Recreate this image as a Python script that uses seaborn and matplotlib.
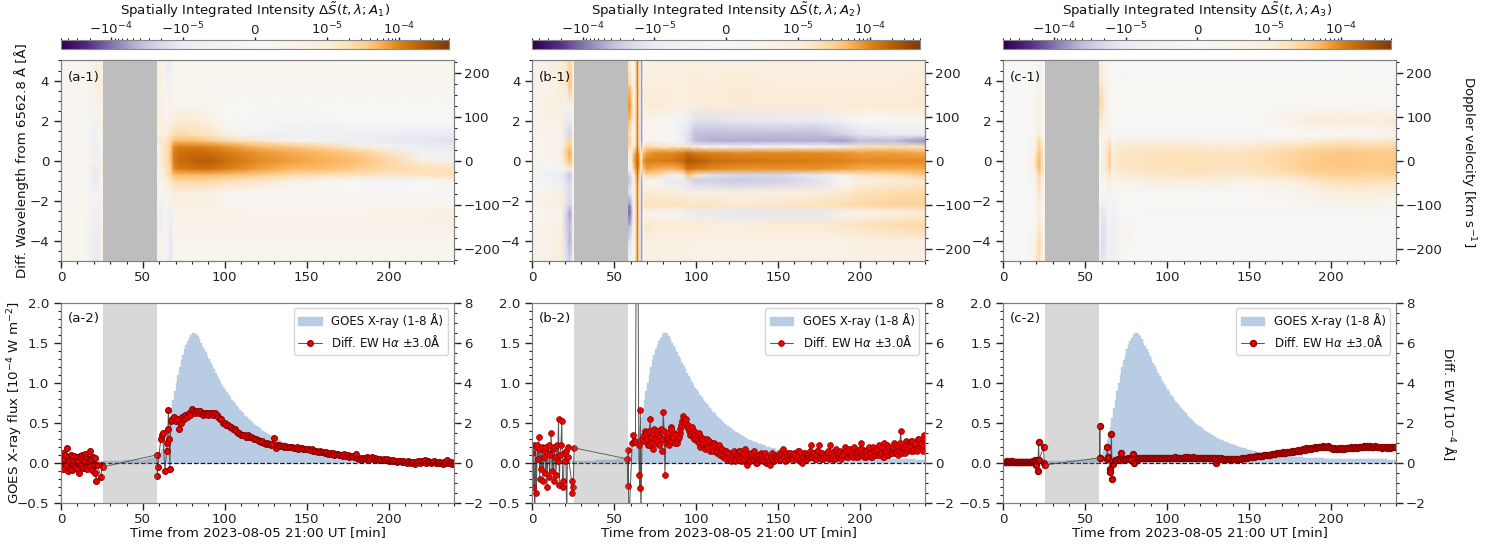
"""
plot.py - H-alpha difference spectra and equivalent width against GOES flux.
"""

import matplotlib.pyplot as plt
import numpy as np
import seaborn as sns
from matplotlib.cm import ScalarMappable
from matplotlib.colors import LinearSegmentedColormap, SymLogNorm
from matplotlib.patches import Patch
from matplotlib.ticker import MultipleLocator

# ── Heatmap data (units of 1e-5), one row per wavelength, low to high ──
wavelength = [-5, -4, -3.2, -2.6, -2.2, -1.6, -1, -0.7, -0.4, 0, 0.4, 0.7, 1, 1.3, 2, 2.8, 3.8, 5]

time_a = [0, 15, 21, 23, 25, 59, 61, 63, 65, 67, 69, 72, 80, 90, 100, 120, 140, 160, 180, 200, 220, 240]
intensity_a = [
    [.3, .3, -1, -1, .4, .7, .7, .4, -.4, -1.2, .3, .3, .3, .3, .3, .3, .3, .3, .3, .3, .3, .3],
    [.3, .3, -1, -1, .7, .7, .4, -.4, -.4, -1.2, .3, .3, .3, .3, .3, .3, .3, .3, .3, .3, .3, .3],
    [.3, .3, -.7, -.7, .4, .7, -.7, .4, -.4, -1, .3, .6, .6, .6, .6, .6, .6, .6, .6, .6, .6, .6],
    [.3, .3, -.7, -.7, .4, .7, -1, .4, -.4, -.7, .3, .6, .6, .6, .6, .3, .3, .3, .3, .6, .6, 1],
    [.3, .3, -.4, -.4, .4, .4, -.7, .4, .4, -.4, .7, .7, .7, .7, .3, .3, .3, .3, .3, .3, .3, .3],
    [.2, .3, -.4, -.4, .4, .4, 0, .4, .4, .4, 1, 1, .7, .7, .3, 0, 0, 0, 0, 0, 0, 0],
    [.2, .2, -1, -.7, .4, .4, .4, .7, 1, 1.5, 2, 2.5, 2.5, 2.5, 2, 1.5, .7, .4, 0, -.4, 0, .4],
    [.2, .2, -1, -.7, .4, .4, .7, 1, 1.7, 2.5, 4.5, 5, 5, 5, 4.5, 3.5, 2.5, 2, 1.8, 1.5, 1.7, 2],
    [.2, .2, -1, -.7, .7, .4, .7, 1.2, 2, 3, 9, 11, 13, 14, 11, 7, 5, 4.5, 3.5, 2.5, 2, 1.8],
    [.2, .2, .7, .7, .7, -.7, 1, 1.7, 2, 4, 11, 15, 18, 20, 15, 9, 7, 5.5, 4.5, 2.5, 1, -.4],
    [.2, .2, -.7, -.4, .4, -.4, 1, 1.7, 2, 4, 11, 14, 16, 15, 12, 8, 6, 5, 3.5, 1.7, -.4, -.7],
    [.2, .2, -.7, -.4, .4, 0, 1, 1.5, 2, 3.5, 9, 11, 11, 10, 8, 5, 4, 2.5, 1.2, -.4, -.7, -1],
    [.2, .2, -.7, .4, .4, 1.5, 1.2, 1.2, 1.7, 2.5, 4.5, 4.5, 4.5, 3.5, 2.5, 1.5, .4, -.4, -.7, -1, -1.2, -1.5],
    [.2, .2, -.7, .4, .4, .4, .7, 1, 1.2, 1.5, 2, 2.5, 2, 1.7, .7, -.4, -.7, -.7, -.7, -.7, -1, -1],
    [.2, .2, -.4, .4, .7, 1, 1, .4, .4, .7, 1, 1.2, 1.2, .7, .15, -.15, -.15, -.15, 0, 0, 0, 0],
    [.3, .15, .4, .7, .7, 1, .7, .4, .4, .4, .3, .3, .3, .3, .15, .15, .15, .15, .15, .15, .15, .15],
    [.3, .3, .7, 1, 1, 1, .7, .4, -.4, -.4, .3, .3, .3, .3, .3, .3, .3, .3, .3, .3, .3, .3],
    [.3, .3, .7, 1, .7, .7, .7, .4, -1, -.7, .3, .3, .3, .3, .3, .3, .3, .3, .3, .3, .3, .3],
]

time_b = [0, 10, 18, 21, 23, 25, 59, 60, 61, 62, 63.5, 64.3, 65, 66.2, 66.9, 67.6, 70, 75, 85, 92, 95, 100, 110, 125, 150, 175, 190, 200, 220, 240]
intensity_b = [
    [.4, .6, 1, -1.5, -2.5, .4, .6, -.8, -.2, 0, 3, 16, 3, -1, -8, .4, .7, .7, .7, .6, .6, .6, .6, .5, .5, .6, .5, .6, .7, .6],
    [.6, .4, 1, -2, -5, .5, -1.5, -1.2, -.4, 0, 3, 16, 3, -1, -8, .6, .7, .7, .7, .7, .7, .6, .6, .6, .6, .6, .6, .8, .8, .8],
    [.4, .6, .7, -2.5, -4, .5, -5, -4, -1.5, 0, 3, 16, 3, -1, -8, .6, 1.5, 1.2, 1.2, 1.2, 1.2, 1.2, 1, 1, 1.2, 1.2, 1.5, 1.7, 2.2, 2.6],
    [0, .3, .4, -2.5, -6, .3, -11, -10, -3, 0, 3, 16, 3, -.6, -8, .2, .3, .3, -.3, -.3, -.6, -.9, -1, -1.2, -1.2, -1.2, -.3, .3, .6, .9],
    [.4, .7, 1, -1.5, -2.5, .3, -8, -7, -2, 0, 3, 16, 3, -.6, -8, 1.2, 2, 1.8, 1.7, 1.7, 1.7, 1.7, 1.6, 1.3, 1.5, 1.7, 2.2, 2.5, 2.8, 3],
    [.4, .4, .7, -1.2, -1.8, .3, -1, -.6, -.2, 0, 3, 16, 3, -.6, -8, .9, 1.2, 1.2, 1, 1, .7, .4, .7, .7, .7, 1, 1.2, 1.8, 2.2, 2.5],
    [0, -.3, -.7, -1.5, -2.5, .3, -3.5, -3, -1.2, 0, 4, 16, 4, -.3, -8, .3, .3, 0, -1, -1, -1.5, -2.5, -2.5, -3, -2.5, -1.5, 0, .7, 1, 1.2],
    [.2, -.6, -1, -2, -3.5, .3, -2.5, -1.8, -.5, .3, 5, 18, 5, .8, -5, 1.2, 2.5, 2.5, -.6, .4, 4, 1.5, -1.5, -2, -2, -1, .7, 1.5, 2, 3.5],
    [.4, -.3, -.3, .7, 1, .7, .4, .4, 1, 3, 8, 20, 8, 2, -.8, 4, 7, 6, 5, 7, 13, 11, 9, 8, 8, 8, 7, 6, 6, 6],
    [.4, .4, .7, 2.5, 5, 1, .7, .4, 1.5, 6, 10, 20, 10, 3, 1, 7, 11, 11, 12, 16, 24, 22, 15, 13, 12, 11, 10, 9, 9, 9],
    [.4, .4, .7, 3.5, 6, 1, 1, 1, 1.5, 4, 8, 18, 7, 2, .7, 4, 7, 9, 9, 11, 15, 11, 10, 9, 9, 9, 8, 7, 7, 6],
    [.4, .4, .7, 2.5, 4, 1, 2.5, 1.5, .7, .4, 4, 16, 4, 0, -5, 1, 2.5, 2, 1.5, 1.5, 1.5, .7, 0, -.3, 0, 0, .7, 1.5, 2, 1.5],
    [.4, .4, .7, 1.5, 2.5, .7, 4, 4, 1, 0, 3, 16, 3, -.5, -8, -.3, .4, .4, 0, -.6, -1.5, -4, -5, -5, -5, -5, -6, -4, -4, -7],
    [.4, .4, .4, -1.5, -2.5, .4, 2.5, 1.5, .4, 0, 3, 16, 3, -.5, -8, 0, .4, .4, 0, -1, -1.5, -4, -4, -4, -4, -4, -2.5, -1.5, -1, -1],
    [.4, .7, .7, -1, -1.2, .7, 4, 4, 1.2, 0, 3, 16, 3, -.5, -8, .4, .4, .4, 0, -.4, -.7, -1.5, -1.5, -1.2, -1, -1, -.4, 0, 0, .4],
    [.4, .7, 1, -.4, .4, .7, 9, 8, 3, 0, 3, 16, 3, -.5, -8, .7, 1.2, 1.2, 1, 1, 1, 1, 1.2, 1.2, 1.2, 1.2, 1.2, 1.2, 1.2, 1.2],
    [.7, .4, 1, 1.2, 5, .7, 3, 2.5, .8, 0, 3, 16, 3, -.5, -8, .7, 1, 1, 1, 1, 1, 1.2, 1, 1.2, 1, 1, 1, 1, 1, 1.2],
    [.4, .7, 1.2, 1.5, 2.5, .7, 1, .4, 0, 0, 3, 16, 3, -.5, -8, .4, .4, .7, .7, .7, .7, .7, .7, .7, .7, .7, .7, .7, .7, .7],
]

time_c = [0, 15, 19, 21, 22, 23, 25, 59, 60, 62, 64, 65, 66, 67, 72, 80, 100, 120, 140, 160, 180, 195, 210, 225, 240]
intensity_c = [
    [.05, .05, .4, 2, 2, 1, .4, -.7, -1.5, -1.2, -.4, -.4, -.7, -.7, 0, 0, 0, 0, 0, 0, 0, 0, 0, 0, 0],
    [.05, .05, .4, 1.5, 2.8, 1.5, .4, -.7, -1.8, -1.5, -.4, -.4, -.7, -.7, .4, .05, .05, .05, .05, .05, .05, .05, .05, .05, .05],
    [.05, .05, .15, .7, 1.5, .7, .4, -.7, -1.5, -1.5, -.4, 0, -.7, -.7, .4, .05, .05, .05, .05, .05, .05, .05, .05, .05, .05],
    [.05, .05, .15, .4, .7, .4, .15, -.7, -1.2, -1.2, -.4, 0, -.4, -.4, 0, -.05, -.15, -.15, -.15, -.15, -.15, -.15, -.15, -.15, -.15],
    [.05, .05, .15, .7, 1, .7, .15, -.4, -.7, -.7, -.15, .4, -.15, -.4, .15, .05, .05, .05, .05, .05, .15, .4, .4, .4, .15],
    [.05, .05, .15, 1, 1.5, .7, .15, 0, 0, 0, .4, .7, 0, 0, .15, .15, .15, .15, .15, .15, .4, .7, 1, 1, .7],
    [.05, .05, .4, 1.5, 2.5, 1.2, .4, .4, .4, .4, .7, 1, .4, .4, .5, .7, .9, 1, .7, .7, 1, 1.7, 2, 2, 1.8],
    [.05, .05, .4, 1.7, 2.8, 1.7, .4, .4, .7, .7, 1.2, 1.7, .7, .7, 1, 1.2, 1.5, 1.6, 1.3, 1.5, 2.2, 3, 3, 2.8, 3],
    [.05, .15, .7, 3, 5, 2.5, .7, .4, .7, 1, 2, 3, 1, 1, 1.4, 1.6, 1.8, 1.9, 1.6, 2, 2.8, 3.5, 3.7, 3.5, 3.7],
    [.05, .15, 1, 4, 5, 3, .7, .4, -.4, 1, 2.2, 4, 1.5, 1, 1.5, 1.6, 1.9, 1.9, 1.8, 2.2, 3, 3.8, 4, 3.6, 3.9],
    [.05, .15, .7, 3, 4, 2.5, .7, .4, .4, 1, 2, 3.5, 1.2, 1, 1.4, 1.6, 1.8, 1.7, 1.6, 2, 2.8, 3.5, 3.8, 3.5, 3.7],
    [.05, .05, .4, 2, 3.5, 2, .4, .4, .4, .7, 1.7, 2.5, 1, .7, 1.2, 1.4, 1.4, 1.3, 1.2, 1.4, 2, 2.6, 2.6, 2.5, 2.6],
    [.05, .05, .4, 1.8, 2.8, 1.5, .4, .4, .7, .7, 1.2, 1.7, .7, .4, .8, .8, .7, .7, .5, .7, .9, 1.2, 1.5, 1.2, 1.5],
    [.05, .05, .15, .7, 1, .4, .15, .4, .4, .4, .4, .4, 0, -.05, -.15, -.15, -.15, -.15, -.15, -.05, 0, .05, .15, .15, .4],
    [.05, .05, .1, .4, .7, .4, .15, 1.5, 1.2, .7, .4, .4, .15, 0, .05, .05, .05, .05, .05, .1, .7, 1.2, 1, 1, 1.2],
    [.05, .05, .1, .4, .7, .4, .15, 3, 2.5, 1, .4, .15, 0, 0, .15, .15, .15, .15, .15, .15, .15, .15, .15, .15, .15],
    [.05, .05, .1, .4, .7, .4, .15, 1.8, 1.5, .7, .4, .15, 0, 0, .05, .1, .1, .1, .1, .1, .1, .1, .1, .1, .1],
    [.05, .05, .05, .15, .4, .15, .05, .4, .4, .4, .15, .1, 0, 0, .05, .05, .05, .05, .05, .05, .05, .05, .05, .05, .05],
]

# ── GOES 1-8 A flux [1e-4 W m-2], one value per minute ─────────────────
goes_time = np.arange(0.5, 240, 1)
goes_flux = [.02] * 25 + [
    .02, .02, .02, .02, .02, .02, .02, .02, .025, .025, .025, .025, .025, .03, .03, .03, .03, .03, .03, .03,
    .03, .03, .035, .035, .04, .04, .045, .045, .05, .055, .06, .065, .07,
    .08, .1, .13, .17, .22, .28, .36, .45, .56, .68, .79, .9,
    1.0, 1.1, 1.19, 1.28, 1.35, 1.42, 1.47, 1.52, 1.56, 1.6,
    1.62, 1.62, 1.61, 1.58, 1.54, 1.5, 1.46, 1.42, 1.38, 1.33,
    1.29, 1.25, 1.21, 1.17, 1.12, 1.08, 1.05, 1.01, .97, .94,
    .91, .88, .85, .82, .79, .76, .73, .71, .68, .66,
    .64, .62, .59, .57, .55, .53, .51, .49, .475, .46,
    .445, .43, .415, .40, .385, .37, .36, .35, .335, .32,
    .31, .30, .29, .28, .27, .26, .255, .25, .24, .23,
    .225, .22, .21, .20, .195, .19, .185, .18, .17, .165,
    .16, .155, .15, .145, .14, .135, .13, .125, .12, .12,
    .115, .11, .108, .105, .102, .10, .098, .095, .092, .09, .088, .085, .082, .08, .08, .08, .078, .075, .072, .07,
    .07, .07, .068, .065, .065, .065, .062, .06, .06, .06, .06, .06, .058, .055, .055, .055, .05, .05, .05, .05,
] + [.05] * 20 + [.045] * 14 + [.04] * 6

# ── Differential EW [1e-4 A]: before the gap, around the restart, afterwards ──
early_time = np.arange(0, 21.5, 0.5)
late_time = np.arange(68, 241, 1)
half_time = np.arange(68.5, 240, 1)
no_values = []

ew_early_a = [0.3, -0.2, 0.5, -0.3, 0.2, 0.4, -0.1, 0.75, -0.4, 0.3, 0.1, -0.3, 0.4, 0.0, -0.35, 0.2, 0.35, -0.2, 0.1, -0.3, 0.3, 0.1, -0.5, 0.35, -0.1, 0.25, 0.4, -0.25, 0.1, 0.45, -0.2, 0.3, -0.3, 0.2, 0.1, -0.15, 0.6, 0.2, -0.35, 0.3, -0.1, 0.25, -0.5]
mid_time_a = [21.5, 22, 24.5, 25, 25.5, 58.5, 58.8, 59, 61, 61.5, 62, 63.5, 64.5, 65, 65.3, 65.6, 66, 66.5, 67]
ew_mid_a = [-0.9, -0.1, -0.7, -0.1, -0.2, 0.4, -0.65, -0.2, 1.2, 1.4, 1.5, -0.4, 0.6, 1.0, 1.7, 2.65, 1.2, -0.3, 2.1]
ew_late_a = [
    2.2, 2.3, 2.1, 2.2, 1.7, 2.0, 2.3, 2.2, 2.4, 2.3, 2.5, 2.4,
    2.7, 2.6, 2.5, 2.6, 2.5, 2.6, 2.5, 2.4, 2.5, 2.5,
    2.4, 2.5, 2.5, 2.4, 2.5, 2.4, 2.3, 2.2, 2.2, 2.0,
    2.0, 1.9, 1.9, 1.8, 1.8, 1.7, 1.7, 1.6, 1.5, 1.5,
    1.4, 1.4, 1.4, 1.3, 1.4, 1.3, 1.3, 1.25, 1.2, 1.2,
    1.15, 1.1, 1.05, 1.1, 1.0, 0.95, 1.0, 0.95, 0.9, 0.95,
    1.25, 0.75, 0.9, 0.9, 0.85, 0.85, 0.8, 0.85, 0.8, 0.8,
    0.8, 0.8, 0.75, 0.75, 0.8, 0.7, 0.75, 0.75, 0.7, 0.7,
    0.7, 0.7, 0.65, 0.7, 0.6, 0.6, 0.6, 0.55, 0.6, 0.55,
    0.55, 0.5, 0.55, 0.45, 0.5, 0.45, 0.5, 0.4, 0.45, 0.45,
    0.4, 0.4, 0.35, 0.45, 0.35, 0.4, 0.3, 0.35, 0.35, 0.3,
    0.45, 0.25, 0.2, 0.25, 0.2, 0.25, 0.2, 0.3, 0.25, 0.2,
    0.3, 0.2, 0.25, 0.2, 0.15, 0.2, 0.15, 0.2, 0.15, 0.2,
    0.1, 0.15, 0.1, 0.15, 0.1, 0.05, 0.1, 0.1, 0.05, 0.1,
    0.05, 0.0, 0.1, 0.05, 0.0, 0.05, -0.05, 0.05, 0.1, 0.0,
    0.1, 0.05, 0.15, 0.0, 0.1, 0.05, 0.0, 0.05, 0.1, 0.0,
    0.0, 0.05, 0.0, -0.05, 0.05, 0.0, 0.15, 0.0, 0.05, -0.05,
    0.0,
]

ew_early_b = [0.5, -1.2, 0.9, -3.0, 0.8, -1.5, 0.9, 0.2, 1.3, -0.8, 0.7, -0.3, 0.8, -0.9, 0.3, 0.6, -0.5, 0.8, -1.2, 0.5, 0.9, -0.7, 0.4, 1.5, -0.4, 0.7, -0.9, 0.8, 0.3, -0.6, 0.9, 0.1, 2.2, -1.1, 0.4, 0.9, 2.1, -0.9, -1.2, 0.5, 0.1, 0.6, -3.0]
mid_time_b = [21.5, 22, 24, 24.5, 25, 25.5, 58, 58.2, 58.5, 59, 61, 61.5, 62, 63, 63.5, 64.5, 65, 65.3, 65.6, 66, 66.3, 67]
ew_mid_b = [0.8, 0.3, -0.9, -1.5, -1.2, 0.75, 0.2, -1.15, 0.65, -3.0, 1.0, 1.4, 1.05, 1.1, 12.0, 12.0, 0.9, -0.6, -1.25, 2.65, -3.0, 1.2]
ew_late_b = [
    1.4, 1.6, 1.2, 0.9, 2.2, 1.0, 1.5, 1.2, 1.6, 1.1, 1.3, 0.6,
    2.55, -0.6, 1.2, 1.5, 1.1, 1.7, 1.3, 1.0, 1.4, 1.2,
    1.5, 1.9, 2.35, 2.1, 2.2, 1.9, 1.7, 1.5, 1.3, 1.6,
    1.2, 1.4, 1.0, 1.3, 0.9, 1.2, 1.0, 0.8, 1.1, 0.9,
    0.8, 1.0, 0.7, 0.6, 0.9, 0.5, 0.7, 0.4, 0.6, 0.4,
    0.2, 0.5, 0.3, 0.6, 0.1, 0.4, 0.2, 0.6, 0.3, 0.1,
    0.7, -0.1, 0.4, 0.1, 0.5, 0.2, 0.3, 0.0, 0.4, 0.2,
    0.4, 0.1, 0.5, 0.2, 0.0, -0.1, 0.3, 0.1, 0.4, 0.2,
    0.3, 0.5, 0.2, 0.7, 0.3, 0.5, 0.2, 0.5, 0.3, 0.4,
    0.5, 0.2, 0.4, 0.6, 0.2, 0.0, 0.5, 0.2, 0.4, 0.3,
    0.9, 0.3, 0.5, 0.2, 0.6, 0.9, 0.2, 0.5, 0.3, 0.4,
    0.5, 0.2, 0.9, 0.3, 0.6, 0.2, 0.5, 0.3, 0.6, 0.4,
    0.5, 0.8, 0.3, 0.6, 0.4, 0.7, 0.3, 0.5, 0.6, 0.3,
    0.7, 1.0, 0.4, 0.6, 0.3, 0.7, 0.5, 0.3, 0.8, 0.4,
    0.6, 0.4, 0.9, 0.5, 0.3, 1.0, 0.6, 0.4, 0.8, 0.5,
    0.7, 1.0, 0.5, 0.9, 0.6, 1.6, 0.5, 0.8, 1.1, 0.6,
    0.9, 0.6, 1.1, 0.7, 1.0, 0.6, 1.2, 0.8, 0.7, 1.4,
    1.2,
]
# panel b is noisy, so the half-minute samples are kept as well
ew_half_b = [
    1.1, 1.5, 0.9, 1.6, 1.3, 0.7, 1.7, 1.0, 1.4, 0.9, 1.7, 1.2,
    1.6, 1.0, 1.3, 0.9, 1.8, 1.1, 1.5, 1.2, 1.0, 1.3,
    1.7, 2.1, 2.2, 2.0, 1.8, 1.6, 1.4, 1.8, 1.2, 1.4,
    1.1, 1.5, 0.8, 1.2, 1.0, 0.7, 1.2, 0.8, 0.6, 1.0,
    0.6, 0.9, 0.5, 0.8, 0.4, 0.7, 0.3, 0.6, 0.2, 0.5,
    0.4, 0.1, 0.5, 0.2, 0.4, 0.3, 0.6, 0.1, 0.5, 0.2,
    0.3, 0.5, 0.1, 0.4, 0.2, 0.6, 0.0, 0.3, 0.2, 0.5,
    0.2, 0.4, 0.0, 0.3, 0.1, 0.3, 0.5, 0.1, 0.3, 0.2,
    0.4, 0.2, 0.6, 0.3, 0.1, 0.4, 0.2, 0.5, 0.3, 0.2,
    0.4, 0.3, 0.6, 0.1, 0.4, 0.3, 0.5, 0.2, 0.4, 0.6,
    0.3, 0.5, 0.2, 0.4, 0.6, 0.3, 0.5, 0.2, 0.4, 0.3,
    0.6, 0.3, 0.5, 0.2, 0.4, 0.7, 0.3, 0.5, 0.2, 0.5,
    0.4, 0.6, 0.3, 0.7, 0.4, 0.5, 0.8, 0.3, 0.5, 0.4,
    0.5, 0.7, 0.3, 0.6, 0.4, 0.8, 0.5, 0.3, 0.6, 0.4,
    0.7, 0.4, 0.5, 0.8, 0.3, 0.6, 0.9, 0.4, 0.6, 0.5,
    0.8, 0.5, 0.7, 0.4, 1.0, 0.6, 0.8, 0.5, 0.9, 0.7,
    0.8, 1.1, 0.6, 0.9, 0.7, 1.2, 0.8, 1.0, 0.6, 0.9,
]

ew_early_c = [0.03, 0.05, 0.02, 0.06, 0.04, 0.08, 0.02, 0.05, 0.03, 0.07, 0.1, 0.04, 0.06, 0.02, 0.05, 0.03, 0.06, 0.04, 0.02, 0.05, 0.06, 0.03, 0.05, 0.02, 0.04, 0.06, 0.03, 0.05, 0.02, 0.06, 0.04, 0.03, 0.05, 0.02, 0.04, 0.06, 0.1, 0.02, 0.0, 0.12, -0.1, 0.15, -0.4]
mid_time_c = [21.5, 21.8, 24.5, 25, 25.5, 58.7, 58.9, 59.1, 63, 63.5, 64, 65, 65.3, 66, 66.4, 67]
ew_mid_c = [1.05, 0.15, 0.8, 0.0, -0.1, 0.25, 1.85, 0.25, 0.2, 0.8, 0.3, -0.3, -0.45, 1.45, -0.8, -0.05]
ew_late_c = [
    0.15, 0.15, 0.2, 0.15, 0.5, 0.2, 0.2, 0.2, 0.25, 0.2, 0.2, 0.45,
    0.0, 0.25, 0.2, 0.25, 0.25, 0.25, 0.25, 0.25, 0.25, 0.25,
    0.25, 0.25, 0.25, 0.25, 0.25, 0.25, 0.25, 0.25, 0.25, 0.25,
    0.25, 0.25, 0.25, 0.25, 0.25, 0.3, 0.25, 0.25, 0.25, 0.25,
    0.25, 0.3, 0.25, 0.3, 0.25, 0.25, 0.3, 0.25, 0.25, 0.25,
    0.25, 0.25, 0.25, 0.25, 0.25, 0.25, 0.25, 0.25, 0.25, 0.25,
    0.0, 0.25, 0.2, 0.25, 0.2, 0.2, 0.2, 0.2, 0.2, 0.2,
    0.2, 0.2, 0.2, 0.2, 0.2, 0.2, 0.25, 0.25, 0.25, 0.25,
    0.3, 0.3, 0.3, 0.3, 0.35, 0.35, 0.35, 0.35, 0.35, 0.4,
    0.4, 0.4, 0.4, 0.4, 0.45, 0.45, 0.45, 0.5, 0.5, 0.5,
    0.5, 0.55, 0.5, 0.55, 0.55, 0.55, 0.6, 0.55, 0.6, 0.6,
    0.65, 0.6, 0.65, 0.7, 0.65, 0.75, 0.7, 0.75, 0.7, 0.75,
    0.8, 0.75, 0.8, 0.8, 0.8, 0.85, 0.8, 0.8, 0.85, 0.8,
    0.75, 0.7, 0.75, 0.7, 0.7, 0.75, 0.7, 0.75, 0.7, 0.75,
    0.75, 0.75, 0.8, 0.75, 0.75, 0.8, 0.75, 0.8, 0.8, 0.8,
    0.85, 0.8, 0.85, 0.8, 0.85, 0.8, 0.8, 0.85, 0.8, 0.8,
    0.8, 0.75, 0.8, 0.8, 0.75, 0.8, 0.75, 0.8, 0.8, 0.8,
    0.8,
]

gap_start, gap_end = 25.5, 58.5
panel_left = [61, 532.3, 1003.4]
panel_tags = ["a", "b", "c"]
panel_mew = [0.8, 0.5, 1.1]
cbar_ticks = [-1e-4, -1e-5, 0, 1e-5, 1e-4]
cbar_labels = ["$-10^{-4}$", "$-10^{-5}$", "$0$", "$10^{-5}$", "$10^{-4}$"]
cbar_minor = [s * k * d for s in (-1, 1) for d in (1e-5, 1e-4) for k in (2, 3, 4, 5, 6, 7, 8, 9) if k * d <= 5e-4]

W, H = 1488, 544
FS = 9.6
BAR = "#b8cce4"
LEGEND_LABELS = ["GOES X-ray (1-8 Å)", "Diff. EW H$\\alpha$ $\\pm$3.0Å"]

sns.set_theme(style="ticks", rc={
    "font.size": FS, "axes.labelsize": FS, "xtick.labelsize": FS, "ytick.labelsize": FS,
    "axes.edgecolor": "#808080", "axes.linewidth": 0.8,
    "xtick.major.size": 5, "ytick.major.size": 5, "xtick.minor.size": 2.5, "ytick.minor.size": 2.5,
    "xtick.major.width": 1, "ytick.major.width": 1, "xtick.minor.width": 0.8, "ytick.minor.width": 0.8,
    "xtick.color": "#222222", "ytick.color": "#222222", "text.color": "#111111", "axes.labelcolor": "#111111",
})

# the reference colour bar stays pale near zero, so PuOr_r is stretched along the bar
base = sns.color_palette("PuOr_r", as_cmap=True)
bar_pos = np.linspace(-1, 1, 513)
stretch = np.interp(np.abs(bar_pos), [0, .378, .575, .744, 1], [0, .08, .3, .6, 1])
cmap = LinearSegmentedColormap.from_list("PuOr_pale", base(0.5 + 0.5 * np.sign(bar_pos) * stretch), N=513)
norm = SymLogNorm(linthresh=1e-5, linscale=0.9, vmin=-5e-4, vmax=5e-4, base=10)


def px_axes(fig, x0, y0, x1, y1):
    return fig.add_axes([x0 / W, 1 - y1 / H, (x1 - x0) / W, (y1 - y0) / H])


def style_time_axis(ax):
    ax.set_xlim(0, 240)
    ax.xaxis.set_major_locator(MultipleLocator(50))
    ax.xaxis.set_minor_locator(MultipleLocator(10))
    ax.tick_params(axis="x", which="major", pad=2)


def draw_spectrum(fig, left, tag, time, values, idx):
    ax = px_axes(fig, left, 60.5, left + 393, 261)
    ax.pcolormesh(time, wavelength, np.array(values) * 1e-5, cmap=cmap, norm=norm, shading="gouraud", rasterized=True)
    ax.axvspan(gap_start, gap_end, color="#bdbdbd", lw=0, zorder=3)
    style_time_axis(ax)
    ax.set_ylim(-5, 5)
    ax.yaxis.set_major_locator(MultipleLocator(2))
    ax.yaxis.set_minor_locator(MultipleLocator(0.5))
    ax.text(0.017, 0.915, f"({tag}-1)", transform=ax.transAxes, zorder=5, va="center")

    vel = ax.twinx()
    vel.set_ylim(-228.4, 228.4)
    vel.yaxis.set_major_locator(MultipleLocator(100))
    vel.yaxis.set_minor_locator(MultipleLocator(25))
    vel.tick_params(axis="y", which="major", pad=2)

    # colorbar sits above the panel, slightly narrower than it
    cax = px_axes(fig, left, 40, left + 388, 49)
    cb = fig.colorbar(ScalarMappable(norm=norm, cmap=cmap), cax=cax, orientation="horizontal")
    cb.set_ticks(cbar_ticks, labels=cbar_labels)
    cb.set_ticks(cbar_minor, minor=True)
    cax.xaxis.set_ticks_position("top")
    cax.tick_params(axis="x", which="major", length=2, pad=0)
    cax.tick_params(axis="x", which="minor", length=1.5)
    cb.outline.set_edgecolor("#888888")
    cax.set_title(rf"Spatially Integrated Intensity $\Delta\tilde{{S}}(t,\lambda;A_{idx})$", fontsize=FS, pad=4, x=0.5)
    return ax, vel


def draw_timeseries(fig, left, tag, mid_time, ew_early, ew_mid, ew_late, extra_time, ew_extra, mew):
    ax = px_axes(fig, left, 302.5, left + 393, 503)
    sns.barplot(x=goes_time, y=goes_flux, native_scale=True, width=1, color=BAR, saturation=1,
                linewidth=0.3, edgecolor=BAR, errorbar=None, ax=ax)
    style_time_axis(ax)
    ax.set_ylim(-0.5, 2)
    ax.yaxis.set_major_locator(MultipleLocator(0.5))
    ax.yaxis.set_minor_locator(MultipleLocator(0.1))
    ax.set_xlabel("Time from 2023-08-05 21:00 UT [min]", labelpad=0)
    ax.text(0.017, 0.92, f"({tag}-2)", transform=ax.transAxes, va="center", zorder=6)

    ew_ax = ax.twinx()
    t = np.concatenate([early_time, mid_time, late_time, extra_time])
    ew = np.concatenate([ew_early, ew_mid, ew_late, ew_extra])
    sns.lineplot(x=t, y=ew, estimator=None, sort=True, color="#555555", lw=0.7, marker="o", ms=4.2,
                 mfc="#ee0000", mec="#8b0000", mew=mew, label=LEGEND_LABELS[1], ax=ew_ax)
    ew_ax.axhline(0, color="k", ls="--", lw=0.9, zorder=4)
    ew_ax.axvspan(gap_start, gap_end, color="gray", alpha=0.3, lw=0, zorder=5)
    ew_ax.set_xlim(0, 240)
    ew_ax.set_ylim(-2, 8)
    ew_ax.set_ylabel("")
    ew_ax.yaxis.set_major_locator(MultipleLocator(2))
    ew_ax.yaxis.set_minor_locator(MultipleLocator(0.5))
    ew_ax.tick_params(axis="y", which="major", pad=2)

    line_handle = ew_ax.get_legend_handles_labels()[0][0]
    bar_handle = Patch(color=BAR)
    ew_ax.legend([bar_handle, line_handle], LEGEND_LABELS, loc="upper right", fontsize=8.5, framealpha=0.8,
                 borderaxespad=0.5, handlelength=2.0, handletextpad=0.8, labelspacing=0.5).set_zorder(10)
    return ax, ew_ax


fig = plt.figure(figsize=(W / 100, H / 100), dpi=100)

top_data = [(time_a, intensity_a), (time_b, intensity_b), (time_c, intensity_c)]
bottom_data = [
    (mid_time_a, ew_early_a, ew_mid_a, ew_late_a, no_values, no_values),
    (mid_time_b, ew_early_b, ew_mid_b, ew_late_b, half_time, ew_half_b),
    (mid_time_c, ew_early_c, ew_mid_c, ew_late_c, no_values, no_values),
]

for i, (left, tag) in enumerate(zip(panel_left, panel_tags)):
    draw_spectrum(fig, left, tag, *top_data[i], i + 1)
    draw_timeseries(fig, left, tag, *bottom_data[i], panel_mew[i])

fig.text(22 / W, 1 - 161 / H, "Diff. Wavelength from 6562.8 Å [Å]", rotation=90, ha="center", va="center", fontsize=FS)
fig.text(15 / W, 1 - 403 / H, "GOES X-ray flux [$10^{-4}$ W m$^{-2}$]", rotation=90, ha="center", va="center", fontsize=FS)
fig.text(1468 / W, 1 - 162 / H, "Doppler velocity [km s$^{-1}$]", rotation=270, ha="center", va="center", fontsize=FS)
fig.text(1449 / W, 1 - 404 / H, "Diff. EW [$10^{-4}$ Å]", rotation=270, ha="center", va="center", fontsize=FS)

fig.savefig("out.png", dpi=100)
plt.close(fig)
